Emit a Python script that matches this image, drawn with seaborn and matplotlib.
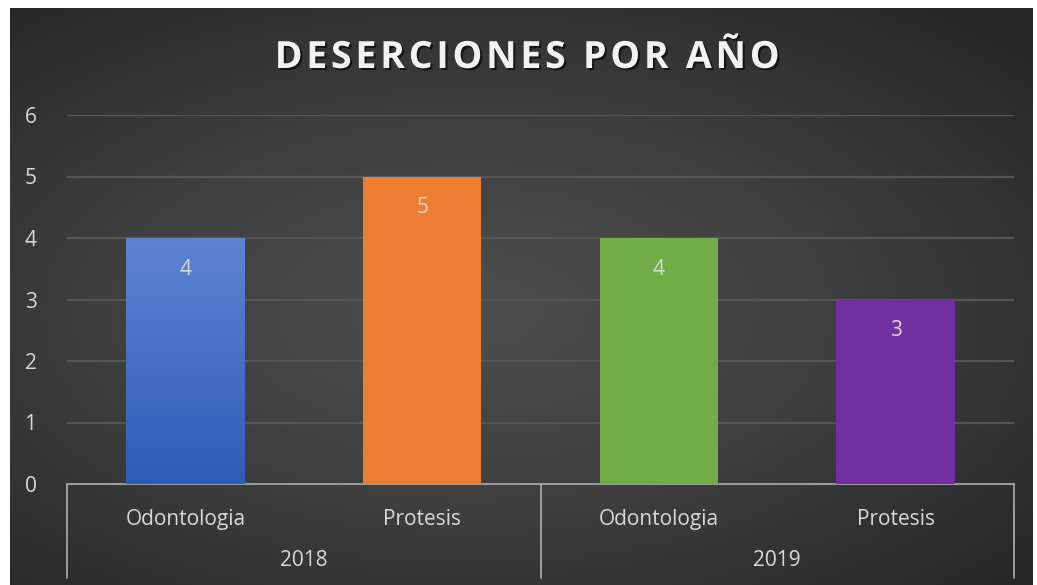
import numpy as np
import pandas as pd
import seaborn as sns
import matplotlib.pyplot as plt
from matplotlib import patheffects as pe
from matplotlib.colors import LinearSegmentedColormap

# data
years = ["2018", "2018", "2019", "2019"]
programs = ["Odontologia", "Protesis", "Odontologia", "Protesis"]
dropouts = [4, 5, 4, 3]
bar_colors = ["#4A76C9", "#ED7D31", "#70AD47", "#7030A0"]
year_groups = ["2018", "2019"]

sns.set_theme(style="dark")
plt.rcParams["font.family"] = ["Open Sans", "DejaVu Sans"]

df = pd.DataFrame({"year": years, "program": programs, "value": dropouts})
df["key"] = df["year"] + "|" + df["program"]

W, H = 1037, 585
fig = plt.figure(figsize=(W / 100, H / 100), dpi=100, facecolor="white")

# dark radial background panel
bg = fig.add_axes([10 / W, 0, 1023 / W, 577 / H])
gx, gy = np.meshgrid(np.linspace(-1, 1, 400), np.linspace(-1, 1, 240))
r = np.sqrt(((gx + 0.1) / 1.5) ** 2 + ((gy - 0.05) / 1.4) ** 2)
bg_cmap = LinearSegmentedColormap.from_list("bg", ["#4e4e4e", "#3e3e3e", "#262626"])
bg.imshow(np.clip(r, 0, 1), cmap=bg_cmap, aspect="auto", extent=[0, 1, 0, 1])
bg.set_axis_off()

ax = fig.add_axes([67 / W, 101 / H, 947 / W, 369 / H])
ax.patch.set_alpha(0)

sns.barplot(data=df, x="key", y="value", hue="key", palette=bar_colors,
            legend=False, width=0.5, saturation=1, linewidth=0, ax=ax, zorder=3)

# gradient on the first bar
p = ax.patches[0]
x0, y0 = p.get_x(), p.get_y()
grad = LinearSegmentedColormap.from_list("blue", ["#2E5DB8", "#5C85D2"])
im = ax.imshow(np.linspace(0, 1, 100).reshape(-1, 1), cmap=grad, origin="lower",
               aspect="auto", extent=[x0, x0 + p.get_width(), y0, y0 + p.get_height()],
               zorder=3.5)
im.set_clip_path(p)

for c in ax.containers:
    ax.bar_label(c, label_type="edge", padding=-30, color="#d9d9d9", fontsize=15, zorder=5)

ax.set_xlim(-0.5, 3.5)
ax.set_ylim(0, 6)
ax.set_yticks(range(0, 7))
ax.set_yticklabels([str(v) for v in range(0, 7)], color="#d9d9d9", fontsize=15)
ax.tick_params(axis="y", length=0, pad=22)
ax.set_xticks(range(len(programs)))
ax.set_xticklabels(programs, color="#d9d9d9", fontsize=15)
ax.tick_params(axis="x", length=0, pad=18)
ax.set_xlabel("")
ax.set_ylabel("")

for yv in range(1, 7):
    ax.axhline(yv, color="#555555", lw=1.6, zorder=1)

for s in ["top", "right", "left"]:
    ax.spines[s].set_visible(False)
ax.spines["bottom"].set_color("#a6a6a6")
ax.spines["bottom"].set_linewidth(1.3)

# multi-level category axis
tr = ax.get_xaxis_transform()
for xb in [-0.5, 1.5, 3.5]:
    ax.plot([xb, xb], [0, -94 / 369], transform=tr, color="#a6a6a6", lw=1.3, clip_on=False)
for i, yr in enumerate(year_groups):
    ax.text(2 * i + 0.5, -76 / 369, yr, transform=tr, ha="center", va="center",
            color="#d9d9d9", fontsize=15)

fig.text(527 / W, 1 - 58 / H, "\u200a".join("DESERCIONES POR AÑO"), ha="center", va="center",
         color="#f2f2f2", fontsize=27, fontweight="bold",
         path_effects=[pe.withSimplePatchShadow(offset=(1.5, -1.5), shadow_rgbFace="black", alpha=0.6)])

fig.savefig("out.png", dpi=100, facecolor="white")
